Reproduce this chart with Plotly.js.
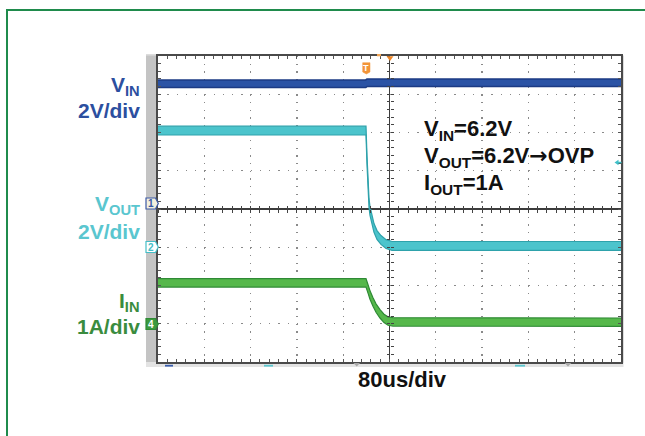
<!DOCTYPE html>
<html>
<head>
<meta charset="utf-8">
<script src="https://cdn.plot.ly/plotly-3.0.1.min.js"></script>
<style>
html,body{margin:0;padding:0;background:#fff;overflow:hidden;width:645px;height:436px}
#chart{position:absolute;left:0;top:0;width:645px;height:436px}
#frame{position:absolute;left:6px;top:9px;width:700px;height:500px;border-left:2px solid #1f8b4c;border-top:2px solid #1f8b4c;pointer-events:none;z-index:5}
</style>
</head>
<body>
<div id="chart"></div>
<div id="frame"></div>
<script>
// ---------------- data ----------------
const timeVin  = [-400, -41, -39, 400];                 // us
const vinVolts = [6.55, 6.55, 6.6, 6.6];                // V

const timeVout  = [-400, -40.6, -38.9, -37.1, -35.4, -33.7, -30.2, -26.8, -21.6, -14.7, -6.0, 4.3, 400];
const voutVolts = [6.10, 6.10, 4.56, 2.99, 2.31, 1.90, 1.37, 1.01, 0.64, 0.38, 0.17, 0.07, 0.07];

const timeIin = [-400, -40.6, -37.1, -33.7, -28.5, -23.3, -16.4, -9.5, -2.6, 6.0, 400];
const iinAmps = [1.07, 1.07, 0.91, 0.75, 0.57, 0.41, 0.26, 0.14, 0.07, 0.05, 0.04];

// channel settings (volts or amps per division, ground offset in divisions)
const vinScale = 2,  vinOffsetDiv = 0;
const voutScale = 2, voutOffsetDiv = -1;
const iinScale = 1,  iinOffsetDiv = -3;
const timePerDiv = 80;   // us/div

// label texts
const leftLabels  = ['V<sub>IN</sub>', '2V/div', 'V<sub>OUT</sub>', '2V/div', 'I<sub>IN</sub>', '1A/div'];
const noteLines   = ['V<sub>IN</sub>=6.2V',
                     'V<sub>OUT</sub>=6.2V<span style="font-family:\'DejaVu Sans\'">\u2192</span>OVP',
                     'I<sub>OUT</sub>=1A'];
const timeLabel   = '80us/div';
const channelMarks = ['1', '2', '4'];

// ---------------- geometry helpers ----------------
const L = 158, R = 621, T = 56, B = 362;
const px = x => (x - L) / (R - L);
const py = y => (B - y) / (B - T);
const DIVX = 10, DIVY = 8;
const FONT = 'Liberation Sans, Arial, Helvetica, sans-serif';

function chRange(scale, off) { return [(-DIVY/2 - off) * scale, (DIVY/2 - off) * scale]; }

// band look of the noisy traces
function band(xs, ys, half, xa, ya, edge, fill, w) {
  return [
    {x: xs, y: ys.map(v => v + half), xaxis: xa, yaxis: ya, mode: 'lines',
     line: {color: edge, width: w}, hoverinfo: 'skip', showlegend: false},
    {x: xs, y: ys.map(v => v - half), xaxis: xa, yaxis: ya, mode: 'lines', fill: 'tonexty',
     fillcolor: fill, line: {color: edge, width: w}, hoverinfo: 'skip', showlegend: false}
  ];
}

const traces = [].concat(
  band(timeVin, vinVolts, 0.20, 'x', 'y', '#1c3b84', '#2b53a5', 1.5),
  band(timeVout, voutVolts, 0.23, 'x2', 'y2', '#2ea2ab', '#4cc4cc', 1.2),
  band(timeIin, iinAmps, 0.11, 'x3', 'y3', '#2f8a35', '#56b84b', 1.2)
);

const tRange = [-DIVX/2 * timePerDiv, DIVX/2 * timePerDiv];
const gridCol = '#8a8a8a';
const common = {showticklabels: false, fixedrange: true};

const layout = {
  width: 645, height: 436, autosize: false,
  margin: {l: L, r: 645 - R, t: T, b: 436 - B, pad: 0},
  paper_bgcolor: 'rgba(0,0,0,0)', plot_bgcolor: '#ffffff',
  showlegend: false,
  xaxis: Object.assign({}, common, {
    range: tRange, dtick: timePerDiv, tick0: 0,
    showgrid: true, gridcolor: gridCol, gridwidth: 1.3, griddash: '1.3px,6.35px',
    zeroline: true, zerolinecolor: '#3c3c3c', zerolinewidth: 1.2,
    showline: true, linecolor: '#4a4a4a', linewidth: 1.6, mirror: 'ticks',
    ticks: 'inside', ticklen: 3, tickcolor: '#555', tickwidth: 1,
    minor: {dtick: timePerDiv / 5, ticks: 'inside', ticklen: 3, tickcolor: '#555', tickwidth: 1, showgrid: false}
  }),
  yaxis: Object.assign({}, common, {
    range: chRange(vinScale, vinOffsetDiv), dtick: vinScale, tick0: 0,
    showgrid: true, gridcolor: gridCol, gridwidth: 1.3, griddash: '1.3px,7.96px',
    zeroline: true, zerolinecolor: '#3c3c3c', zerolinewidth: 1.2,
    showline: true, linecolor: '#4a4a4a', linewidth: 1.6, mirror: 'ticks',
    ticks: 'inside', ticklen: 3, tickcolor: '#555', tickwidth: 1,
    minor: {dtick: vinScale / 5, ticks: 'inside', ticklen: 3, tickcolor: '#555', tickwidth: 1, showgrid: false}
  }),
  xaxis2: Object.assign({}, common, {
    overlaying: 'x', anchor: 'free', position: 0.5, range: tRange,
    dtick: timePerDiv / 5, tick0: 0, ticks: 'outside', ticklen: 3, tickcolor: '#444',
    showgrid: false, zeroline: false, showline: false
  }),
  xaxis3: Object.assign({}, common, {
    overlaying: 'x', anchor: 'free', position: 0.5, range: tRange,
    dtick: timePerDiv / 5, tick0: 0, ticks: 'inside', ticklen: 3, tickcolor: '#444',
    showgrid: false, zeroline: false, showline: false
  }),
  yaxis2: Object.assign({}, common, {
    overlaying: 'y', anchor: 'free', position: 0.5, range: chRange(voutScale, voutOffsetDiv),
    dtick: voutScale / 5, tick0: 0, ticks: 'outside', ticklen: 3, tickcolor: '#444',
    showgrid: false, zeroline: false, showline: false
  }),
  yaxis3: Object.assign({}, common, {
    overlaying: 'y', anchor: 'free', position: 0.5, range: chRange(iinScale, iinOffsetDiv),
    dtick: iinScale / 5, tick0: 0, ticks: 'inside', ticklen: 3, tickcolor: '#444',
    showgrid: false, zeroline: false, showline: false
  }),
  shapes: [],
  annotations: []
};

function rect(x0, y0, x1, y1, fill, layer) {
  layout.shapes.push({type: 'rect', xref: 'paper', yref: 'paper', x0: px(x0), x1: px(x1), y0: py(y1), y1: py(y0),
    fillcolor: fill, line: {width: 0}, layer: layer || 'below'});
}
function poly(pts, fill, lineCol, lw, layer) {
  const d = pts.map((p, i) => (i ? 'L' : 'M') + px(p[0]) + ',' + py(p[1])).join(' ') + ' Z';
  layout.shapes.push({type: 'path', xref: 'paper', yref: 'paper', path: d, fillcolor: fill,
    line: {color: lineCol || fill, width: lw || 0}, layer: layer || 'above'});
}
function text(t, x, y, size, color, xanchor) {
  layout.annotations.push({text: t, xref: 'paper', yref: 'paper', x: px(x), y: py(y),
    xanchor: xanchor || 'center', yanchor: 'middle', showarrow: false,
    font: {family: FONT, size: size, color: color, weight: 'bold'}});
}

// scope frame
rect(146, 55, 158, 367, '#c4c4c4');
rect(621, 55.5, 623.5, 363, '#bcbcbc');
rect(146, 362, 623.5, 367, '#e3e3e3');
rect(146, 54.3, 222, 56, '#d2d2d2');

// channel ground markers
function chMark(yc, fill, edge, label, tcol) {
  poly([[146, yc - 5.5], [155.5, yc - 5.5], [158.3, yc], [155.5, yc + 5.5], [146, yc + 5.5]], fill, edge, 1.2, 'above');
  text(label, 151, yc, 10, tcol);
}
chMark(203.5, '#f4f1de', '#3a58a6', channelMarks[0], '#3a58a6');
chMark(247, '#ffffff', '#45bec7', channelMarks[1], '#45bec7');
chMark(324, '#3c9a3e', '#2f8a35', channelMarks[2], '#ffffff');

// trigger markers
poly([[362.7, 62.7], [370, 62.7], [370, 72], [366.4, 74], [362.7, 72]], '#f29438', '#f29438', 0.5);
text('T', 366.4, 68, 9, '#ffffff');
poly([[386.5, 56.3], [393.5, 56.3], [390, 61]], '#f08624');
rect(377, 54, 381, 56.3, '#f2a554', 'above');

// right-side cyan level arrow
poly([[614.5, 162.5], [618.5, 159.8], [618.5, 165.2]], '#3fc0c8');
layout.shapes.push({type: 'line', xref: 'paper', yref: 'paper', x0: px(618), x1: px(621.5), y0: py(162.5), y1: py(162.5),
  line: {color: '#3fc0c8', width: 1.5}});

// bottom strip marks
rect(165, 364.8, 173, 366.6, '#3b5fb0', 'above');
rect(264, 364.8, 273, 366.6, '#5cc8d0', 'above');
rect(515, 364.8, 525, 366.6, '#5cc8d0', 'above');
poly([[353.4, 363], [360, 363], [356.7, 366.6]], '#a8a8a8');
poly([[564.7, 363], [571.3, 363], [568, 366.6]], '#a8a8a8');

// left channel labels
const leftY = [85.5, 110, 205, 231.5, 301.5, 326.5];
const leftCol = ['#2c4f9f', '#2c4f9f', '#5ac6cf', '#5ac6cf', '#3a8c3e', '#3a8c3e'];
leftLabels.forEach((t, i) => text(t, 142, leftY[i], 21, leftCol[i], 'right'));

// conditions note
const noteY = [130, 157, 184];
noteLines.forEach((t, i) => text(t, 422, noteY[i], 22, '#111111', 'left'));

// time base
text(timeLabel, 402.3, 379, 22, '#111111');

Plotly.newPlot('chart', traces, layout, {staticPlot: true, displayModeBar: false});
</script>
</body>
</html>
